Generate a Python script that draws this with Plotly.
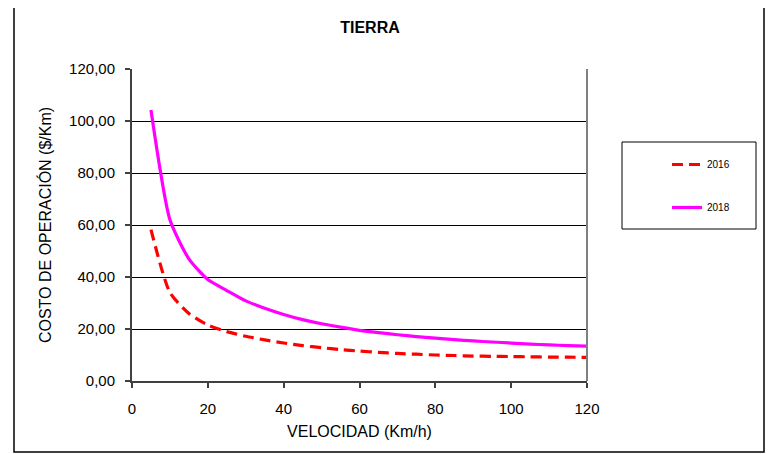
import plotly.graph_objects as go

velocidad = [5, 10, 15, 20, 25, 30, 35, 40, 45, 50, 55, 60, 65, 70, 75, 80, 85, 90, 95, 100, 105, 110, 115, 120]
costo_2016 = [58.2, 34.0, 26.0, 21.5, 19.0, 17.2, 15.8, 14.6, 13.6, 12.8, 12.1, 11.5, 11.0, 10.6, 10.3, 10.0, 9.8, 9.6, 9.5, 9.4, 9.3, 9.2, 9.15, 9.1]
costo_2018 = [104.2, 62.0, 47.0, 39.0, 34.8, 30.8, 28.0, 25.6, 23.6, 22.0, 20.7, 19.5, 18.6, 17.8, 17.1, 16.5, 15.9, 15.4, 15.0, 14.6, 14.2, 13.9, 13.6, 13.4]
x_ticks = [0, 20, 40, 60, 80, 100, 120]
y_ticks = [0, 20, 40, 60, 80, 100, 120]

FONT = "Liberation Sans, Arial, sans-serif"

fig = go.Figure()
fig.add_trace(go.Scatter(x=velocidad, y=costo_2016, mode="lines", name="2016",
                         legendgroup="a",
                         line=dict(color="#FF0000", width=3.2, dash="11px,6px",
                                   shape="spline", smoothing=0.6)))
fig.add_trace(go.Scatter(x=velocidad, y=costo_2018, mode="lines", name="2018",
                         legendgroup="b",
                         line=dict(color="#FF00FF", width=3.2,
                                   shape="spline", smoothing=0.6)))

# page body has an 8px offset; work in reference pixel coordinates minus that
OFF = 8
W, H = 775 - OFF, 454 - OFF
L, R, T, B = 132 - OFF, 587 - OFF, 69 - OFF, 381 - OFF
pw, ph = R - L, B - T

def px(xp):
    return (xp - OFF - L) / pw

def py(yp):
    return (B - (yp - OFF)) / ph

fig.update_layout(
    width=W, height=H,
    margin=dict(l=L, r=W - R, t=T, b=H - B),
    paper_bgcolor="white", plot_bgcolor="white",
    separators=",.",
    font=dict(family=FONT, color="black"),
    title=dict(text="<b>TIERRA</b>", x=(370 - OFF) / W, xanchor="center",
               y=1 - (27 - OFF) / H, yanchor="middle",
               font=dict(size=16, family=FONT, color="black")),
    xaxis=dict(range=[0, 120], tickvals=x_ticks, ticks="outside", ticklen=5,
               tickcolor="#404040", tickwidth=1.5,
               showline=True, linecolor="#404040", linewidth=2,
               showgrid=False, zeroline=False,
               tickfont=dict(size=15, family=FONT),
               ticklabelstandoff=8,
               title=dict(text="VELOCIDAD (Km/h)", font=dict(size=16, family=FONT), standoff=10)),
    yaxis=dict(range=[0, 120], tickvals=y_ticks, tickformat=".2f", ticks="outside",
               ticklen=5, tickcolor="#404040", tickwidth=1.5,
               showline=True, linecolor="#404040", linewidth=2,
               showgrid=True, gridcolor="black", gridwidth=1, zeroline=False,
               tickfont=dict(size=15, family=FONT),
               ticklabelstandoff=7,
               title=dict(text="COSTO DE OPERACIÓN ($/Km)", font=dict(size=16, family=FONT), standoff=14)),
    legend=dict(x=px(667), xanchor="left", y=py(150), yanchor="top",
                bgcolor="rgba(0,0,0,0)", borderwidth=0,
                font=dict(size=10, family=FONT), tracegroupgap=24),
    showlegend=True,
    shapes=[
        dict(type="rect", xref="paper", yref="paper",
             x0=px(14), x1=px(764), y0=py(452), y1=py(7),
             line=dict(color="black", width=1.5), layer="below"),
        dict(type="rect", xref="paper", yref="paper",
             x0=px(622), x1=px(756), y0=py(229), y1=py(142),
             line=dict(color="black", width=1), layer="below"),
        dict(type="line", xref="paper", yref="paper",
             x0=1, x1=1, y0=0, y1=1,
             line=dict(color="#808080", width=2), layer="above"),
    ],
)

fig.write_html("out.html")
